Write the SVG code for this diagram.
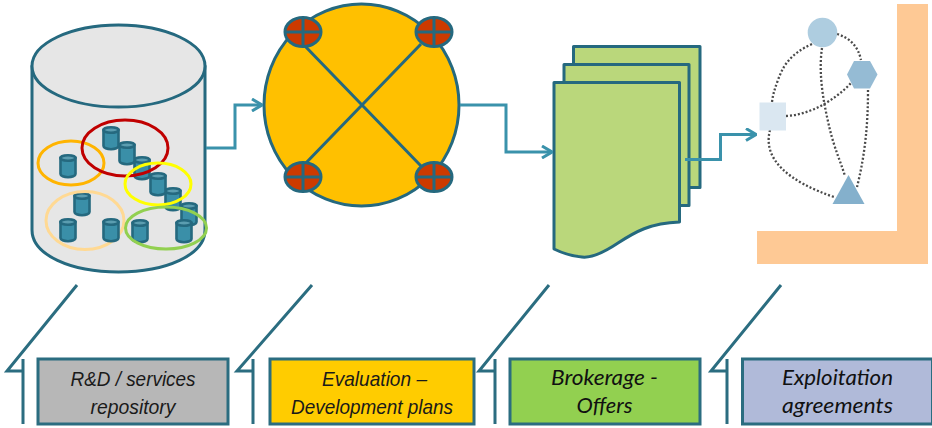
<svg xmlns="http://www.w3.org/2000/svg" width="932" height="428" viewBox="0 0 932 428">
<style>
.o{stroke:#25697f;stroke-width:3;stroke-linejoin:round}
.n{fill:none}
.c{fill:none;stroke:#3a92ab;stroke-width:3;stroke-linejoin:miter}
.d{fill:none;stroke:#4a4a4a;stroke-width:2.300;stroke-dasharray:2 2}
.l{fill:none;stroke:#2b6d80;stroke-width:3}
.b{stroke:#2b6d80;stroke-width:3}
.ar{font:italic 21px "Liberation Sans",Arial,sans-serif;fill:#1a1a1a;text-anchor:middle}
.ca{font:italic 21px Lato,"Liberation Sans",sans-serif;fill:#111;text-anchor:middle}
.r{fill:none;stroke-width:3}
</style>
<defs>
<marker id="arrow" viewBox="0 0 12 14" markerWidth="12" markerHeight="14" refX="11" refY="7" orient="auto" markerUnits="userSpaceOnUse">
<path d="M1 1L11 7L1 13" fill="none" stroke="#3a92ab" stroke-width="3"/>
</marker>
<g id="mini">
<path d="M-7.500 -8V8A7.500 3.200 0 0 0 7.500 8V-8Z" fill="#3a8fa8" stroke="#25697f" stroke-width="2.600"/>
<ellipse cx="0" cy="-8" rx="7.500" ry="2.800" fill="#5b9db0" stroke="#25697f" stroke-width="2.600"/>
</g>
<g id="port">
<ellipse rx="18" ry="14.500" fill="#cc3a00" stroke="#25697f" stroke-width="3"/>
<path d="M0 -14V14M-18 0H18" stroke="#25697f" stroke-width="3" fill="none"/>
</g>
</defs>

<g id="repository">
<path class="o" fill="#e6e6e6" d="M32 66V230C32 255 71 272 118.500 272S205 255 205 230V66Z"/>
<ellipse class="o" fill="#e6e6e6" cx="118.500" cy="66" rx="86.500" ry="41"/>
<use href="#mini" x="189" y="214"/>
<use href="#mini" x="173" y="199"/>
<use href="#mini" x="158" y="184"/>
<use href="#mini" x="142" y="168"/>
<use href="#mini" x="127" y="153"/>
<use href="#mini" x="111" y="138"/>
<use href="#mini" x="68" y="166"/>
<use href="#mini" x="82" y="204"/>
<use href="#mini" x="68" y="230"/>
<ellipse class="r" stroke="#ffd993" cx="85" cy="220.500" rx="39" ry="29"/>
<use href="#mini" x="111" y="230"/>
<use href="#mini" x="140" y="231"/>
<use href="#mini" x="184" y="231"/>
<ellipse class="r" stroke="#ffb400" cx="71" cy="163" rx="33" ry="22"/>
<ellipse class="r" stroke="#c00000" cx="125" cy="148" rx="43" ry="28"/>
<ellipse class="r" stroke="#ffff00" cx="158" cy="184" rx="33" ry="21"/>
<ellipse class="r" stroke="#92d050" cx="166" cy="228" rx="40.500" ry="21"/>
</g>

<g id="evaluation">
<ellipse class="o" fill="#ffc000" cx="361.500" cy="105" rx="97.500" ry="101"/>
<path class="n" stroke="#25697f" stroke-width="3" d="M303 44L421 166M421 44L303 166"/>
<use href="#port" x="303" y="32"/>
<use href="#port" x="434" y="32"/>
<use href="#port" x="303" y="177"/>
<use href="#port" x="434" y="177"/>
</g>

<g id="offers">
<rect class="o" fill="#bad77b" x="573.500" y="46.500" width="126.500" height="141"/>
<rect class="o" fill="#bad77b" x="564" y="64.500" width="125" height="141"/>
<path class="o" fill="#bad77b" d="M554 82.500H679.500V222C650 223 635 232 618 243C600 255 590 258 582 257C572 256 562 253 554 249Z"/>
</g>

<g id="agreements">
<path fill="#fec995" d="M897 4H928V264H757V231H897Z"/>
<path class="d" d="M812 44C790 54 783 66 778 80C775 88 773 94 772 102"/>
<path class="d" d="M837 34C850 38 858 46 861 60"/>
<path class="d" d="M822 48C818 75 824 105 830 130C835 150 840 160 845 176"/>
<path class="d" d="M786 116C810 115 835 100 851 83"/>
<path class="d" d="M868 90C868 125 865 155 857 187"/>
<path class="d" d="M770 130C762 160 790 182 834 197"/>
<circle cx="822.500" cy="32.500" r="14.800" fill="#aecde0"/>
<path fill="#95bbd4" d="M854 61H870L877.500 74.500L870 88.500H854L847 74.500Z"/>
<rect x="759.500" y="102.500" width="26.500" height="28" fill="#dae7f1"/>
<path fill="#84b0cc" d="M848.500 175L864.500 204H832.500Z"/>
</g>

<g id="connectors">
<path class="c" d="M206 148H235V105H262" marker-end="url(#arrow)"/>
<path class="c" d="M460 105H506V152H552" marker-end="url(#arrow)"/>
<path class="c" d="M685 159.500H720.500V134.500H756" marker-end="url(#arrow)"/>
<path class="l" d="M77 285L7 371H23M23 359V424"/>
<path class="l" d="M312 285L237 371H253M253 359V424"/>
<path class="l" d="M549 285L479 371H495M495 359V424"/>
<path class="l" d="M781 285L711 371H727M727 359V424"/>
</g>

<g id="label-repository">
<rect class="b" fill="#b7b7b7" x="38" y="359" width="190" height="65"/>
<text class="ar" x="133" y="386" textLength="125" lengthAdjust="spacingAndGlyphs">R&amp;D / services</text>
<text class="ar" x="133" y="414" textLength="85" lengthAdjust="spacingAndGlyphs">repository</text>
</g>
<g id="label-evaluation">
<rect class="b" fill="#ffcc00" x="270" y="359" width="204" height="65"/>
<text class="ar" x="374.500" y="386" textLength="105" lengthAdjust="spacingAndGlyphs">Evaluation –</text>
<text class="ar" x="372" y="414" textLength="162" lengthAdjust="spacingAndGlyphs">Development plans</text>
</g>
<g id="label-offers">
<rect class="b" fill="#92d050" x="510" y="359" width="190" height="65"/>
<text class="ca" x="604.500" y="385" textLength="107" lengthAdjust="spacingAndGlyphs">Brokerage -</text>
<text class="ca" x="604.500" y="413" textLength="56" lengthAdjust="spacingAndGlyphs">Offers</text>
</g>
<g id="label-agreements">
<rect class="b" fill="#b0bad9" x="742.500" y="359" width="190" height="65"/>
<text class="ca" x="837.500" y="385" textLength="111" lengthAdjust="spacingAndGlyphs">Exploitation</text>
<text class="ca" x="837.500" y="413" textLength="111" lengthAdjust="spacingAndGlyphs">agreements</text>
</g>
</svg>
